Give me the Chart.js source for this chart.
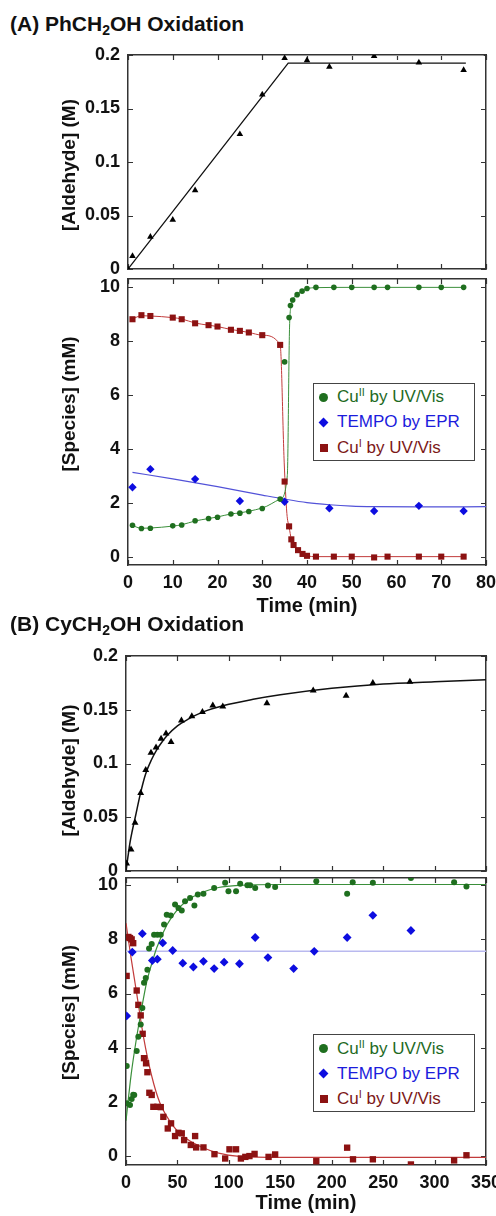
<!DOCTYPE html>
<html>
<head>
<meta charset="utf-8">
<title>Aldehyde formation and Cu / TEMPO speciation</title>
<script src="https://cdn.jsdelivr.net/npm/chart.js@4.4.1/dist/chart.umd.min.js"></script>
<style>
html, body { margin: 0; padding: 0; background: #fff; }
body { position: relative; width: 496px; height: 1216px; overflow: hidden; font-family: 'Liberation Sans', Arial, Helvetica, sans-serif; }
canvas { position: absolute; left: 0; }
.title { position: absolute; left: 10px; font-size: 21px; line-height: 24px; font-weight: bold; color: #111; white-space: nowrap; z-index: 2; }
.title sub { font-size: 14px; line-height: 0; vertical-align: -4px; }
.legend { position: absolute; left: 313px; width: 162px; height: 78px; box-sizing: border-box; border: 1.5px solid #444; background: #fff; font-size: 17px; z-index: 2; }
.legend div { position: absolute; left: 23px; height: 20px; line-height: 20px; white-space: nowrap; }
.legend sup { font-size: 11px; line-height: 0; vertical-align: 6px; }
.legend i { position: absolute; display: block; }
.cu2 { color: #1f6a1f; }
.tempo { color: #1c1cdc; }
.cu1 { color: #7c1818; }
.cu2 i { left: -17.7px; top: 5.5px; width: 9px; height: 9px; border-radius: 50%; background: #1f6f1f; }
.tempo i { left: -16.7px; top: 6.5px; width: 7px; height: 7px; transform: rotate(45deg); background: #0d0de0; }
.cu1 i { left: -17.2px; top: 6px; width: 8px; height: 8px; background: #8c1212; }
</style>
</head>
<body>

<div class="title" style="top:12px">(A) PhCH<sub>2</sub>OH Oxidation</div>
<canvas id="aAld" width="496" height="240" style="top:40px"></canvas>
<canvas id="aSpecies" width="496" height="357" style="top:263px"></canvas>
<div class="legend" style="top:383px">
  <div class="cu2" style="top:3px"><i></i>Cu<sup>II</sup> by UV/Vis</div>
  <div class="tempo" style="top:28px"><i></i>TEMPO by EPR</div>
  <div class="cu1" style="top:53.5px"><i></i>Cu<sup>I</sup> by UV/Vis</div>
</div>

<div class="title" style="top:612px">(B) CyCH<sub>2</sub>OH Oxidation</div>
<canvas id="bAld" width="496" height="242" style="top:640px"></canvas>
<canvas id="bSpecies" width="496" height="354" style="top:862px"></canvas>
<div class="legend" style="top:1034px">
  <div class="cu2" style="top:3.5px"><i></i>Cu<sup>II</sup> by UV/Vis</div>
  <div class="tempo" style="top:28.5px"><i></i>TEMPO by EPR</div>
  <div class="cu1" style="top:54px"><i></i>Cu<sup>I</sup> by UV/Vis</div>
</div>

<script>
// axis ticks
const timeTicksA = [0, 10, 20, 30, 40, 50, 60, 70, 80];
const timeTicksB = [0, 50, 100, 150, 200, 250, 300, 350];
const aldehydeTicks = [0, 0.05, 0.1, 0.15, 0.2];
const speciesTicks = [0, 2, 4, 6, 8, 10];

// (A) PhCH2OH - aldehyde (M)
const aAldT = [0, 1, 5, 10, 15, 25, 30, 35, 40, 45, 55, 65, 75];
const aAldV = [0, 0.012, 0.030, 0.046, 0.0735, 0.126, 0.163, 0.197, 0.195, 0.189, 0.199, 0.193, 0.186];
const aAldFitT = [0, 35.8, 75.5];
const aAldFitV = [0, 0.1925, 0.1925];
const aAldCapT = [36, 79.5];
const aAldCapV = [0.1995, 0.1995];

// (A) species (mM)
const aCu2T = [1, 3, 5, 10, 12, 15, 18, 20, 23, 25, 27, 30, 34, 35, 36, 36.3, 36.8, 37.8, 38.9, 40, 42, 46, 50, 55, 58, 65, 70, 75];
const aCu2V = [1.16, 1.04, 1.05, 1.14, 1.17, 1.33, 1.41, 1.46, 1.58, 1.61, 1.67, 1.78, 2.13, 7.21, 8.85, 9.3, 9.5, 9.7, 9.83, 9.93, 9.97, 9.97, 9.97, 9.97, 9.97, 9.97, 9.97, 9.97];
const aCu2FitT = [1, 3, 5, 10, 12, 15, 18, 20, 23, 25, 27, 30, 34, 35.6, 36.1, 36.5, 37.8, 38.9, 40, 42, 50, 75];
const aCu2FitV = [1.15, 1.05, 1.06, 1.13, 1.18, 1.32, 1.41, 1.47, 1.58, 1.62, 1.68, 1.8, 2.13, 3.0, 8.5, 9.3, 9.7, 9.83, 9.92, 9.96, 9.97, 9.97];

const aTempoT = [1, 5, 15, 25, 35, 45, 55, 65, 75];
const aTempoV = [2.57, 3.24, 2.87, 2.06, 2.03, 1.79, 1.69, 1.88, 1.69];
const aTempoFitT = [1, 10, 20, 30, 35, 40, 45, 50, 55, 65, 80];
const aTempoFitV = [3.12, 2.88, 2.59, 2.28, 2.13, 2.0, 1.92, 1.87, 1.85, 1.84, 1.85];

const aCu1T = [1, 3, 5, 10, 12, 15, 18, 20, 23, 25, 27, 30, 34, 35, 36, 36.5, 37, 38, 39, 40, 42, 46, 50, 55, 58, 65, 70, 75];
const aCu1V = [8.79, 8.94, 8.91, 8.85, 8.79, 8.64, 8.57, 8.52, 8.40, 8.36, 8.30, 8.20, 7.84, 2.78, 1.12, 0.64, 0.43, 0.24, 0.1, 0.03, 0, 0, 0, -0.03, 0, 0, 0, 0];
const aCu1FitT = [1, 3, 5, 10, 12, 15, 18, 20, 23, 25, 27, 30, 34, 34.9, 35.5, 36, 36.5, 37, 38, 39, 40, 42, 75];
const aCu1FitV = [8.8, 8.92, 8.91, 8.85, 8.8, 8.65, 8.57, 8.52, 8.41, 8.36, 8.3, 8.2, 7.84, 3.5, 1.6, 1.1, 0.64, 0.43, 0.24, 0.1, 0.03, 0, 0];

// (B) CyCH2OH - aldehyde (M)
const bAldT = [0.6, 4.9, 8.8, 14.3, 19.2, 24.3, 29.2, 34.1, 38.9, 43.8, 53.9, 64, 74.3, 84.4, 94.1, 137, 182, 214, 240, 276];
const bAldV = [0.007, 0.020, 0.045, 0.0725, 0.094, 0.110, 0.115, 0.123, 0.128, 0.120, 0.140, 0.144, 0.148, 0.154, 0.153, 0.156, 0.168, 0.163, 0.175, 0.176];
const bAldFitT = [0, 2, 4, 6, 9, 14, 19, 25, 30, 35, 40, 50, 60, 75, 95, 125, 150, 200, 250, 300, 350];
const bAldFitV = [0, 0.014, 0.027, 0.037, 0.05, 0.072, 0.09, 0.104, 0.113, 0.12, 0.126, 0.135, 0.141, 0.148, 0.154, 0.16, 0.164, 0.17, 0.174, 0.176, 0.178];

// (B) species (mM)
const bCu2T = [0.7, 0.7, 3.9, 5.5, 7, 8, 10.4, 12, 14.3, 15.9, 17.5, 19.2, 20.8, 22.4, 25, 27.3, 30.5, 33.8, 37, 39.6, 43.5, 47.7, 51, 54.2, 57.4, 62.3, 66.5, 69.8, 75.3, 85.7, 96.4, 99.6, 107, 111, 118, 120.7, 125.6, 138, 145, 185, 215, 220.4, 240, 277, 319, 331];
const bCu2V = [3.32, 1.94, 1.88, 2.1, 2.26, 2.25, 3.87, 4.4, 4.85, 5.46, 6.4, 6.57, 6.88, 7.66, 7.83, 8.17, 8.17, 8.17, 8.55, 8.91, 8.88, 9.29, 9.16, 9.07, 9.41, 9.53, 9.25, 9.66, 9.69, 9.9, 10.09, 9.78, 9.78, 10.06, 10.0, 10.0, 9.9, 9.99, 9.94, 10.15, 9.69, 10.11, 10.09, 10.27, 10.11, 9.96];
const bCu2FitT = [0, 5, 10, 15, 20, 25, 30, 40, 50, 60, 75, 90, 110, 150, 350];
const bCu2FitV = [1.3, 3.0, 4.3, 5.4, 6.4, 7.1, 7.7, 8.55, 9.1, 9.45, 9.75, 9.92, 10.0, 10.03, 10.03];

const bTempoT = [0.7, 6.1, 15.9, 25.6, 30.5, 35.7, 45.4, 55.2, 65.5, 75.3, 85.7, 95.4, 110.3, 125.6, 138, 163, 183, 215, 240, 277];
const bTempoV = [5.17, 7.53, 8.21, 7.22, 7.27, 7.87, 7.59, 7.12, 6.98, 7.19, 6.92, 7.16, 7.1, 8.07, 7.33, 6.92, 7.56, 8.07, 8.89, 8.33];
const bTempoFitT = [0, 350];
const bTempoFitV = [7.56, 7.56];

const bCu1T = [0.6, 1.3, 2.3, 3.9, 5.5, 7, 10.4, 12, 14.3, 16.2, 17.5, 19.5, 20.8, 22.7, 25, 26.6, 30.5, 33.8, 36.3, 40.6, 43.8, 47.7, 51, 54.2, 56.5, 63, 67.2, 68.2, 75.3, 86, 96.4, 100.6, 107, 111.7, 116, 120, 125, 138.6, 145, 185, 215, 220.7, 240, 277, 319, 331];
const bCu1V = [6.65, 8.07, 8.09, 8.05, 8.0, 7.86, 6.11, 5.58, 5.19, 4.51, 3.61, 3.42, 3.09, 2.33, 2.25, 1.81, 1.81, 1.8, 1.44, 1.01, 1.2, 0.73, 0.85, 0.83, 0.58, 0.4, 0.73, 0.31, 0.31, 0.06, -0.1, 0.24, 0.24, -0.1, -0.04, -0.01, 0.07, -0.04, 0.05, -0.2, 0.3, -0.13, -0.13, -0.32, -0.17, 0.02];
const bCu1FitT = [0, 5, 10, 17, 25, 33, 46, 60, 75, 90, 110, 150, 350];
const bCu1FitV = [8.6, 7.3, 6.1, 4.4, 2.95, 1.95, 1.1, 0.6, 0.3, 0.1, -0.02, -0.06, -0.06];

const FONT = "'Liberation Sans', Arial, Helvetica, sans-serif";
const INK = '#111';
const FRAME = '#333';
const GREEN = '#1f6f1f', BLUE = '#0d0de0', RED = '#8c1212';

function pts(ts, vs) {
    return ts.map((t, i) => ({ x: t, y: vs[i] }));
}

function marks(label, ts, vs, style, color, r) {
    return {
        label: label,
        data: pts(ts, vs),
        showLine: false,
        pointStyle: style,
        pointRadius: r,
        pointBackgroundColor: color,
        pointBorderColor: color,
        pointBorderWidth: 0
    };
}

function fit(ts, vs, color, width, smooth) {
    return {
        data: pts(ts, vs),
        showLine: true,
        pointRadius: 0,
        borderColor: color,
        borderWidth: width,
        cubicInterpolationMode: smooth ? 'monotone' : 'default',
        tension: 0,
        fill: false
    };
}

// short tick marks pointing into the plot, on all four sides of the box
const innerTicks = {
    id: 'innerTicks',
    beforeDatasetsDraw(chart) {
        const { ctx, chartArea: a, scales } = chart;
        const len = 5;
        ctx.save();
        ctx.strokeStyle = FRAME;
        ctx.lineWidth = 1.2;
        ctx.beginPath();
        scales.x.ticks.forEach(t => {
            const px = Math.round(scales.x.getPixelForValue(t.value)) + 0.5;
            ctx.moveTo(px, a.bottom); ctx.lineTo(px, a.bottom - len);
            ctx.moveTo(px, a.top); ctx.lineTo(px, a.top + len);
        });
        scales.y.ticks.forEach(t => {
            const py = Math.round(scales.y.getPixelForValue(t.value)) + 0.5;
            ctx.moveTo(a.left, py); ctx.lineTo(a.left + len, py);
            ctx.moveTo(a.right, py); ctx.lineTo(a.right - len, py);
        });
        ctx.stroke();
        ctx.restore();
    }
};

// rotated y-axis title; the original figure does not centre it on the box
const sideTitle = {
    id: 'sideTitle',
    afterDraw(chart, args, opts) {
        const { ctx, chartArea: a } = chart;
        ctx.save();
        ctx.translate(opts.x, (a.top + a.bottom) / 2 + opts.shift);
        ctx.rotate(-Math.PI / 2);
        ctx.font = 'bold 19px ' + FONT;
        ctx.fillStyle = INK;
        ctx.textAlign = 'center';
        ctx.textBaseline = 'middle';
        ctx.fillText(opts.text, 0, 0);
        ctx.restore();
    }
};

// box frame: labels only left / bottom, top and right axes only give the border.
// Box sizes are fixed so the plot areas line up; label overhang is allowed.
function frame(s) {
    const grid = { display: false, drawTicks: false, drawOnChartArea: false };
    const border = { display: true, color: FRAME, width: 1.5 };
    const labelFont = { family: FONT, size: 18, weight: 'bold' };
    const useTicks = list => scale => { scale.ticks = list.map(v => ({ value: v })); };
    return {
        x: {
            type: 'linear', position: 'bottom', min: s.xMin, max: s.xMax,
            afterBuildTicks: useTicks(s.xTicks),
            afterFit: sc => { sc.height = s.bottom; sc.paddingLeft = 0; sc.paddingRight = 0; },
            grid: grid, border: border,
            ticks: { display: !!s.xTitle, padding: 7, autoSkip: false, maxRotation: 0, color: INK, font: labelFont, callback: v => String(v) },
            title: { display: !!s.xTitle, text: s.xTitle || '', color: INK, font: { family: FONT, size: 20, weight: 'bold' }, padding: { top: 0, bottom: s.xTitlePad || 0 } }
        },
        x2: {
            type: 'linear', position: 'top', min: s.xMin, max: s.xMax,
            afterFit: sc => { sc.height = s.top; sc.paddingLeft = 0; sc.paddingRight = 0; },
            grid: grid, border: border,
            ticks: { display: false }
        },
        y: {
            type: 'linear', position: 'left', min: s.yMin, max: s.yMax,
            afterBuildTicks: useTicks(s.yTicks),
            afterFit: sc => { sc.width = s.left; sc.paddingTop = 0; sc.paddingBottom = 0; },
            grid: grid, border: border,
            ticks: { padding: 8, color: INK, font: labelFont, callback: v => String(v) }
        },
        y2: {
            type: 'linear', position: 'right', min: s.yMin, max: s.yMax,
            afterFit: sc => { sc.width = s.right; sc.paddingTop = 0; sc.paddingBottom = 0; },
            grid: grid, border: border,
            ticks: { display: false }
        }
    };
}

function panel(id, datasets, s) {
    return new Chart(document.getElementById(id), {
        type: 'scatter',
        data: { datasets: datasets },
        plugins: [innerTicks, sideTitle],
        options: {
            responsive: false,
            animation: false,
            events: [],
            layout: { padding: 0 },
            plugins: {
                legend: { display: false },
                tooltip: { enabled: false },
                sideTitle: { text: s.yTitle, x: 70, shift: s.yTitleShift }
            },
            scales: frame(s)
        }
    });
}

panel('aAld', [
    marks('Aldehyde', aAldT, aAldV, 'triangle', '#000', 3.8),
    fit(aAldFitT, aAldFitV, '#111', 1.3, false),
    fit(aAldCapT, aAldCapV, '#9a9a9a', 1, false)
], { xMin: 0, xMax: 80, xTicks: timeTicksA, yMin: 0, yMax: 0.2, yTicks: aldehydeTicks,
     yTitle: '[Aldehyde] (M)', yTitleShift: 3, left: 128, right: 10, top: 15, bottom: 11 });

panel('aSpecies', [
    marks('CuII by UV/Vis', aCu2T, aCu2V, 'circle', GREEN, 2.8),
    marks('TEMPO by EPR', aTempoT, aTempoV, 'rectRot', BLUE, 4.2),
    marks('CuI by UV/Vis', aCu1T, aCu1V, 'rect', RED, 4.3),
    fit(aCu2FitT, aCu2FitV, '#3a8f3a', 1, true),
    fit(aTempoFitT, aTempoFitV, '#5252d8', 1.2, true),
    fit(aCu1FitT, aCu1FitV, '#c23b3b', 1, true)
], { xMin: 0, xMax: 80, xTicks: timeTicksA, yMin: -0.31, yMax: 10.28, yTicks: speciesTicks,
     yTitle: '[Species] (mM)', yTitleShift: -18, xTitle: 'Time (min)', xTitlePad: 2, left: 128, right: 10, top: 16, bottom: 55 });

panel('bAld', [
    marks('Aldehyde', bAldT, bAldV, 'triangle', '#000', 4),
    fit(bAldFitT, bAldFitV, '#111', 1.5, true)
], { xMin: 0, xMax: 350, xTicks: timeTicksB, yMin: 0, yMax: 0.2, yTicks: aldehydeTicks,
     yTitle: '[Aldehyde] (M)', yTitleShift: 7, left: 126, right: 10, top: 16, bottom: 11 });

panel('bSpecies', [
    marks('CuII by UV/Vis', bCu2T, bCu2V, 'circle', GREEN, 3),
    marks('TEMPO by EPR', bTempoT, bTempoV, 'rectRot', BLUE, 4.4),
    marks('CuI by UV/Vis', bCu1T, bCu1V, 'rect', RED, 4.5),
    fit(bCu2FitT, bCu2FitV, '#3a8f3a', 1.2, true),
    fit(bTempoFitT, bTempoFitV, '#b9b9ef', 1.5, false),
    fit(bCu1FitT, bCu1FitV, '#c23b3b', 1.2, true)
], { xMin: 0, xMax: 350, xTicks: timeTicksB, yMin: -0.34, yMax: 10.27, yTicks: speciesTicks,
     yTitle: '[Species] (mM)', yTitleShift: -9, xTitle: 'Time (min)', xTitlePad: 1, left: 126, right: 10, top: 16, bottom: 51 });
</script>
</body>
</html>
